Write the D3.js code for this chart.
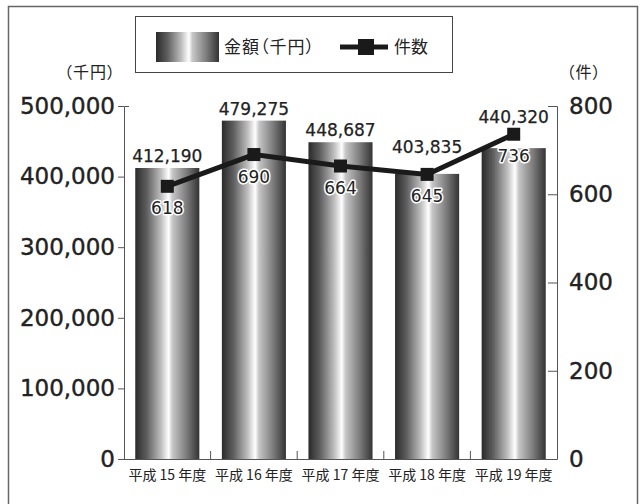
<!DOCTYPE html>
<html><head><meta charset="utf-8">
<script src="https://cdn.jsdelivr.net/npm/d3@7"></script>
<style>
body{margin:0;background:#fff;}
svg{display:block;}
.jp{font-family:"Noto Sans CJK JP","Noto Sans",sans-serif;font-feature-settings:"palt";}
</style></head>
<body>
<script>
const categories = ["平成 15 年度","平成 16 年度","平成 17 年度","平成 18 年度","平成 19 年度"];
const amounts = [412190, 479275, 448687, 403835, 440320];
const counts = [618, 690, 664, 645, 736];
const leftTicks = [0, 100000, 200000, 300000, 400000, 500000];
const rightTicks = [0, 200, 400, 600, 800];
const valueLabelLift = [0, 0, 0, 15, 19];

const W = 643, H = 504;
const svg = d3.select("body").append("svg").attr("width", W).attr("height", H);

const defs = svg.append("defs");
const grad = defs.append("linearGradient").attr("id","cyl").attr("x1","0").attr("x2","1").attr("y1","0").attr("y2","0");
[[0,"#2a2a2a"],[0.18,"#5e5e5e"],[0.4,"#bdbdbd"],[0.52,"#ffffff"],[0.58,"#c6c6c6"],[0.8,"#7c7c7c"],[1,"#333333"]]
  .forEach(([o,c])=>grad.append("stop").attr("offset",o).attr("stop-color",c));

// outer frame
svg.append("rect").attr("x",8.5).attr("y",6.5).attr("width",629).attr("height",520)
  .attr("fill","none").attr("stroke","#666").attr("stroke-width",1.5);

const x0 = 124, x1 = 557, yTop = 106, yBot = 459;
const x = d3.scaleBand().domain(categories).range([x0, x1]).paddingInner(0.26).paddingOuter(0.13);
const yL = d3.scaleLinear().domain([0, 500000]).range([yBot, yTop]);
const yR = d3.scaleLinear().domain([0, 800]).range([yBot, yTop]);

// bars
svg.append("g").selectAll("rect").data(amounts).join("rect")
  .attr("x",(d,i)=>x(categories[i])).attr("width",x.bandwidth())
  .attr("y",d=>yL(d)).attr("height",d=>yL(0)-yL(d)).attr("fill","url(#cyl)");

function styleTicks(g){
  g.selectAll("path,line").attr("stroke","#555");
  g.selectAll("text").attr("font-size",23).attr("fill","#222").attr("font-family","DejaVu Sans")
   .attr("stroke","#222").attr("stroke-width",0.4);
}
// left axis
const gl = svg.append("g").attr("transform",`translate(${x0},0)`)
  .call(d3.axisLeft(yL).tickValues(leftTicks).tickFormat(d3.format(",")).tickSize(6).tickSizeOuter(-5).tickPadding(3));
styleTicks(gl);

// right axis
const gr = svg.append("g").attr("transform",`translate(${x1},0)`)
  .call(d3.axisRight(yR).tickValues(rightTicks).tickSize(-9).tickSizeOuter(-9).tickPadding(12));
styleTicks(gr);

// bottom axis line and boundary ticks
svg.append("line").attr("x1",x0).attr("x2",x1).attr("y1",yBot+0.5).attr("y2",yBot+0.5).attr("stroke","#555");
const gap = (x.step()-x.bandwidth())/2;
svg.append("g").selectAll("line").data(categories.slice(1)).join("line")
  .attr("x1",d=>x(d)-gap).attr("x2",d=>x(d)-gap).attr("y1",yBot).attr("y2",yBot-8).attr("stroke","#555");

// x labels
svg.append("g").selectAll("text").data(categories).join("text")
  .attr("class","jp").attr("x",d=>x(d)+x.bandwidth()/2).attr("y",480)
  .attr("text-anchor","middle").attr("font-size",14).attr("fill","#222").text(d=>d);

// value labels
svg.append("g").selectAll("text").data(amounts).join("text")
  .attr("x",(d,i)=>x(categories[i])+x.bandwidth()/2).attr("y",(d,i)=>yL(d)-6-valueLabelLift[i])
  .attr("text-anchor","middle").attr("font-family","DejaVu Sans").attr("font-size",17).attr("fill","#222")
  .attr("stroke","#222").attr("stroke-width",0.25)
  .text(d=>d3.format(",")(d));

// line
const cx = (i)=>x(categories[i])+x.bandwidth()/2;
svg.append("path").datum(counts)
  .attr("d", d3.line().x((d,i)=>cx(i)).y(d=>yR(d)))
  .attr("fill","none").attr("stroke","#1a1a1a").attr("stroke-width",5);
svg.append("g").selectAll("rect").data(counts).join("rect")
  .attr("x",(d,i)=>cx(i)-6.5).attr("y",d=>yR(d)-6.5).attr("width",13).attr("height",13).attr("fill","#1a1a1a");

// count labels
svg.append("g").selectAll("text").data(counts).join("text")
  .attr("x",(d,i)=>cx(i)).attr("y",d=>yR(d)+28)
  .attr("text-anchor","middle").attr("font-family","DejaVu Sans").attr("font-size",17)
  .attr("fill","#222").attr("stroke","#fff").attr("stroke-width",3).attr("paint-order","stroke")
  .attr("stroke-linejoin","round").text(d=>d);

// unit labels
svg.append("text").attr("class","jp").attr("x",90).attr("y",78).attr("text-anchor","middle")
  .attr("font-size",16).attr("letter-spacing",1).attr("fill","#222").text("（千円）");
svg.append("text").attr("class","jp").attr("x",584).attr("y",78).attr("text-anchor","middle")
  .attr("font-size",16).attr("letter-spacing",1).attr("fill","#222").text("（件）");

// legend
const lg = svg.append("g");
lg.append("rect").attr("x",135.5).attr("y",16.5).attr("width",317).attr("height",56)
  .attr("fill","#fff").attr("stroke","#444").attr("stroke-width",1);
lg.append("rect").attr("x",156).attr("y",32).attr("width",63).attr("height",30).attr("fill","url(#cyl)");
lg.append("text").attr("class","jp").attr("x",224).attr("y",53).attr("font-size",17).attr("letter-spacing",1).attr("fill","#222").text("金額（千円）");
lg.append("line").attr("x1",340).attr("x2",388).attr("y1",47).attr("y2",47).attr("stroke","#1a1a1a").attr("stroke-width",5);
lg.append("rect").attr("x",358).attr("y",39).attr("width",16).attr("height",16).attr("fill","#1a1a1a");
lg.append("text").attr("class","jp").attr("x",394).attr("y",53).attr("font-size",17).attr("fill","#222").text("件数");
</script>
</body></html>
